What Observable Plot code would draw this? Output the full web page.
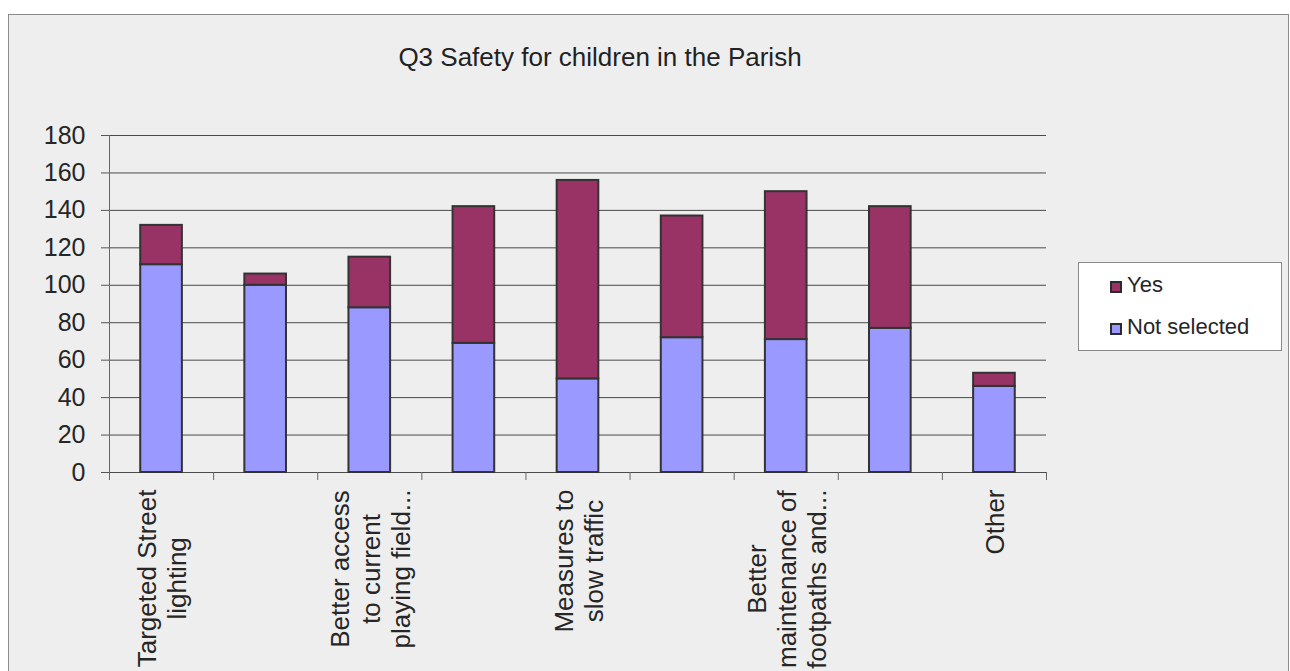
<!DOCTYPE html>
<html><head><meta charset="utf-8">
<script src="https://cdn.jsdelivr.net/npm/d3@7"></script>
<script src="https://cdn.jsdelivr.net/npm/@observablehq/plot@0.6"></script>
<style>
html,body{margin:0;padding:0;background:#fff;overflow:hidden;width:1290px;height:671px;}
body{font-family:"Liberation Sans",Arial,sans-serif;position:relative;}
#box{position:absolute;left:8px;top:14px;width:1281px;height:700px;background:#eeeeee;box-sizing:border-box;border:1px solid #8a8a8a;}
#chart{position:absolute;left:8px;top:14px;}
#title{position:absolute;left:8px;width:1184px;top:42px;text-align:center;font-size:26px;color:#222;white-space:nowrap;}
#legend{position:absolute;left:1078px;top:262px;width:204px;height:89px;box-sizing:border-box;background:#fff;border:1px solid #8a8a8a;}
.item{position:absolute;left:31px;font-size:22px;color:#262626;line-height:24px;white-space:nowrap;}
.sw{display:inline-block;width:12px;height:12px;box-sizing:border-box;border:2px solid #2b2b2b;margin-right:5px;vertical-align:-1px;}
</style></head><body>
<div id="box"></div>
<div id="chart"></div>
<div id="title">Q3 Safety for children in the Parish</div>
<div id="legend"></div>
<script>
// ---- data ----
const categories = ["Targeted Street lighting", "Option 2", "Better access to current playing field...", "Option 4", "Measures to slow traffic", "Option 6", "Better maintenance of footpaths and...", "Option 8", "Other"];
const tickLabels = ["Targeted Street\nlighting", "", "Better access\nto current\nplaying field...", "", "Measures to\nslow traffic", "", "Better\nmaintenance of\nfootpaths and...", "", "Other"];
const seriesNames = ["Not selected", "Yes"];
const notSelected = [111, 100, 88, 69, 50, 72, 71, 77, 46];
const yes = [21, 6, 27, 73, 106, 65, 79, 65, 7];
const yTicks = [0, 20, 40, 60, 80, 100, 120, 140, 160, 180];
const colors = ["#9999ff", "#993366"];

// ---- layout ----
const W = 1281, H = 700, mL = 101, mT = 121, mR = 243, mB = 242;
const yMax = 180;
const k = (H - mT - mB) / yMax;
const step = (W - mL - mR) / categories.length;
const font = "'Liberation Sans', Arial, sans-serif";

const rows = [];
categories.forEach((c, i) => {
  rows.push({cat: c, series: seriesNames[0], value: notSelected[i]});
  rows.push({cat: c, series: seriesNames[1], value: yes[i]});
});

const ctx = document.createElement("canvas").getContext("2d");
ctx.font = "26px 'Liberation Sans'";
const labelMarks = [];
tickLabels.forEach((lab, i) => {
  if (!lab) return;
  const w = d3.max(lab.split("\n"), s => ctx.measureText(s).width);
  labelMarks.push(Plot.text([lab], {
    x: () => categories[i], text: d => d, frameAnchor: "bottom",
    rotate: -90, textAnchor: "middle", lineAnchor: "middle", lineHeight: 1.17,
    dy: 17 + w / 2, fontSize: 26, fill: "#262626"
  }));
});

const chart = Plot.plot({
  width: W, height: H,
  marginLeft: mL, marginTop: mT, marginRight: mR, marginBottom: mB,
  style: {background: "transparent", fontFamily: font, color: "#262626", overflow: "visible"},
  x: {domain: categories, paddingInner: 0.6, paddingOuter: 0.3, round: false, axis: null},
  y: {domain: [0, yMax]},
  color: {domain: seriesNames, range: colors},
  marks: [
    Plot.gridY(yTicks, {stroke: "#4a4a4a", strokeOpacity: 1, strokeWidth: 1}),
    Plot.axisY(yTicks, {tickSize: 8, tickPadding: 16, fontSize: 25, stroke: "#555", fill: "#262626", label: null}),
    Plot.ruleX([categories[0]], {dx: -step / 2, y1: yMax, y2: -8 / k, stroke: "#666", strokeWidth: 1}),
    Plot.ruleX(categories, {x: d => d, dx: -step / 2, y1: 0, y2: -8 / k, stroke: "#666", strokeWidth: 1}),
    Plot.ruleX([categories[categories.length - 1]], {dx: step / 2, y1: 0, y2: -8 / k, stroke: "#666", strokeWidth: 1}),
    Plot.barY(rows, Plot.stackY({x: "cat", y: "value", fill: "series", stroke: "#333", strokeWidth: 2})),
    ...labelMarks
  ]
});
document.getElementById("chart").appendChild(chart);

// legend (reverse order like the reference)
const legend = document.getElementById("legend");
seriesNames.slice().reverse().forEach((name, j) => {
  const idx = seriesNames.indexOf(name);
  const d = document.createElement("div");
  d.className = "item";
  d.style.top = (10 + j * 42) + "px";
  d.innerHTML = `<span class="sw" style="background:${colors[idx]}"></span>${name}`;
  legend.appendChild(d);
});
</script>
</body></html>
